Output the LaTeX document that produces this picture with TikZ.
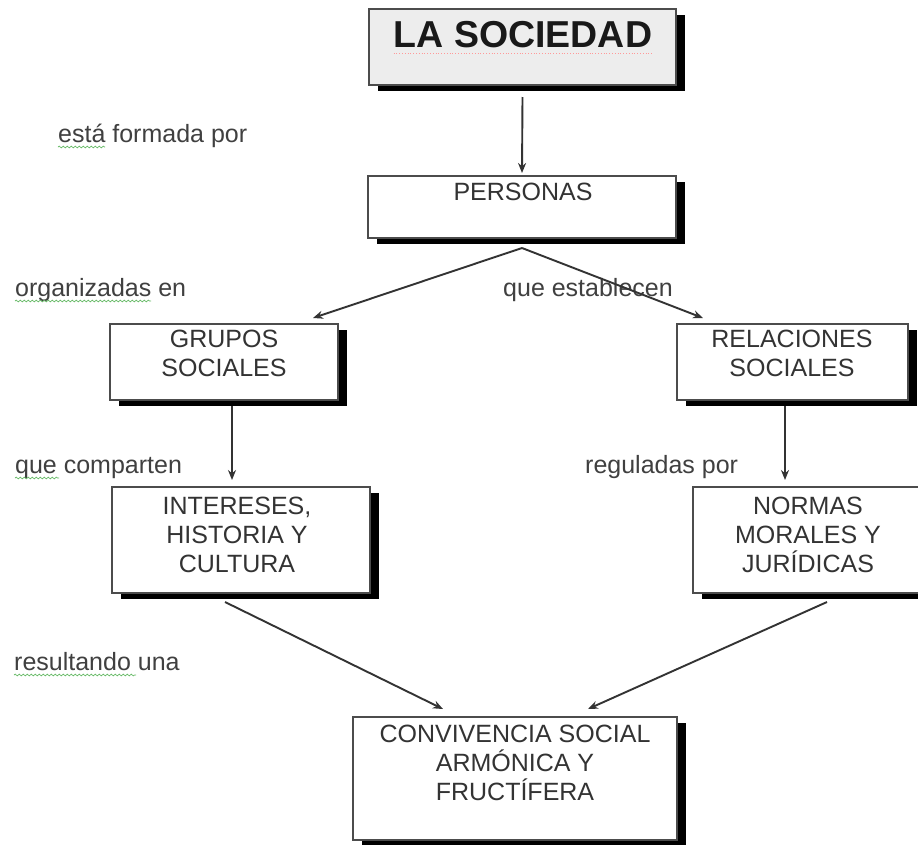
\documentclass[tikz,border=0pt]{standalone}
\usepackage{fontspec}
\setmainfont{Liberation Sans}
\usetikzlibrary{arrows.meta,shadows,calc,decorations.pathmorphing}
\begin{document}
\begin{tikzpicture}[x=1pt,y=-1pt,
  box/.style={draw=black!70, line width=1.8pt, fill=white, rectangle, inner sep=0pt, outer sep=0pt, anchor=north west,
    drop shadow={shadow xshift=9pt, shadow yshift=-6pt, opacity=1, fill=black}},
  txt/.style={anchor=north, inner sep=0pt, align=center, text=black!80, font=\fontsize{25}{29}\selectfont},
  lbl/.style={anchor=base west, inner sep=0pt, text=black!75, font=\fontsize{25}{29}\selectfont},
  arr/.style={draw=black!80, line width=1.9pt, -{Stealth[length=10pt,width=8pt]}},
  squig/.style={draw=green!55!black!60, line width=0.7pt, decorate, decoration={snake, amplitude=0.9pt, segment length=4pt}}]
\path[use as bounding box, fill=white] (0,0) rectangle (918,844);

% boxes
\node[box, fill=black!7, minimum width=307pt, minimum height=76pt] (soc) at (369,9) {};
\node[box, minimum width=308pt, minimum height=62pt] (per) at (368,176) {};
\node[box, minimum width=228pt, minimum height=76pt] (gru) at (110,324) {};
\node[box, minimum width=231pt, minimum height=76pt] (rel) at (677,324) {};
\node[box, minimum width=258pt, minimum height=106pt] (int) at (112,487) {};
\node[box, minimum width=230pt, minimum height=106pt] (nor) at (693,487) {};
\node[box, minimum width=324pt, minimum height=123pt] (con) at (353,717) {};

% box texts
\node[anchor=base, inner sep=0pt, text=black!90, font=\fontsize{37.5}{40}\selectfont\bfseries] (socT) at (523,47) {LA SOCIEDAD};
\draw[draw=red!40, line width=0.8pt, dotted] ([yshift=-6pt]socT.base west) -- ([yshift=-6pt]socT.base east);
\node[txt] (perT) at (523,183) {PERSONAS};
\node[txt] (gruT) at (224,330) {GRUPOS\\SOCIALES};
\node[txt] (relT) at (792,330) {RELACIONES\\SOCIALES};
\node[txt] (intT) at (237,497) {INTERESES,\\HISTORIA Y\\CULTURA};
\node[txt] (norT) at (808,497) {NORMAS\\MORALES Y\\JURÍDICAS};
\node[txt] (conT) at (515,725) {CONVIVENCIA SOCIAL\\ARMÓNICA Y\\FRUCTÍFERA};

% labels
\node[lbl] (l1) at (58,142) {está formada por};
\node[lbl] (l2) at (15,296) {organizadas en};
\node[lbl] (l3) at (503,296) {que establecen};
\node[lbl] (l4) at (15,473) {que comparten};
\node[lbl] (l5) at (585,473) {reguladas por};
\node[lbl] (l6) at (14,670) {resultando una};

% spell-check squiggles
\draw[squig] ([yshift=-5pt]l1.base west) -- ++(47,0);
\draw[squig] ([yshift=-5pt]l2.base west) -- ++(136,0);
\draw[squig] ([yshift=-5pt]l4.base west) -- ++(44,0);
\draw[squig] ([yshift=-5pt]l6.base west) -- ++(122,0);

% connectors
\draw[arr] ([yshift=-12pt]soc.south) -- ([yshift=3pt]per.north);
\draw[arr] ([yshift=-10pt]per.south) -- ($(gru.north east)+(-25,-6)$);
\draw[arr] ([yshift=-10pt]per.south) -- ($(rel.north west)+(26,-6)$);
\draw[arr] ($(gru.south west)+(122,6)$) -- ($(int.north west)+(120,-7)$);
\draw[arr] ($(rel.south west)+(108,6)$) -- ($(nor.north west)+(92,-7)$);
\draw[arr] ($(int.south west)+(113,9)$) -- ($(con.north west)+(90,-8)$);
\draw[arr] ($(nor.south west)+(134,9)$) -- ($(con.north west)+(235,-8)$);
\end{tikzpicture}
\end{document}
